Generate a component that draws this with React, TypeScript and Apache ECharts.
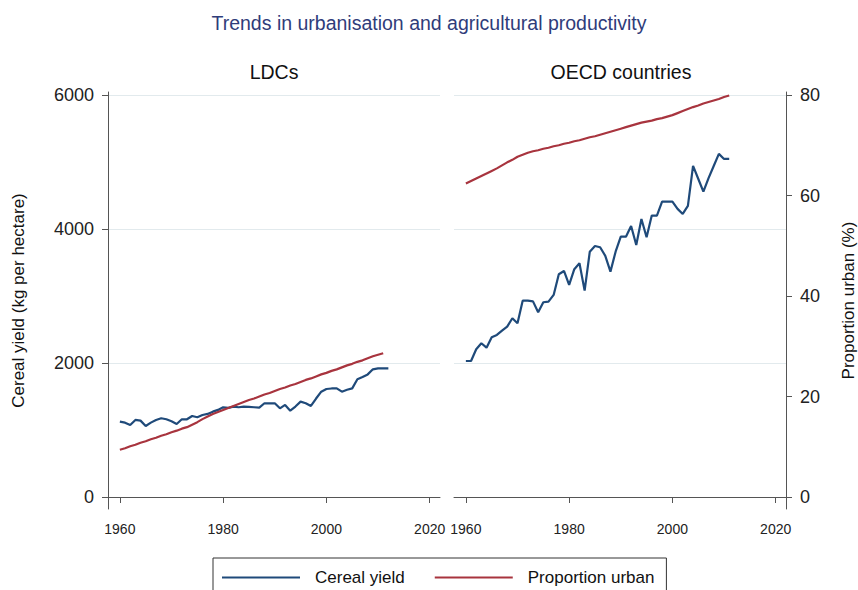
import React, { useEffect, useRef } from "react";
import * as echarts from "echarts";

const YEARS = [
  1960, 1961, 1962, 1963, 1964, 1965, 1966, 1967, 1968, 1969,
  1970, 1971, 1972, 1973, 1974, 1975, 1976, 1977, 1978, 1979,
  1980, 1981, 1982, 1983, 1984, 1985, 1986, 1987, 1988, 1989,
  1990, 1991, 1992, 1993, 1994, 1995, 1996, 1997, 1998, 1999,
  2000, 2001, 2002, 2003, 2004, 2005, 2006, 2007, 2008, 2009,
  2010, 2011, 2012,
];

// LDCs: cereal yield (kg/ha), 1960-2012
const ldcCereal = [
  1124, 1110, 1075, 1150, 1140, 1060, 1110, 1150, 1175, 1160,
  1130, 1090, 1160, 1160, 1209, 1190, 1224, 1240, 1274, 1300,
  1339, 1330, 1348, 1340, 1349, 1345, 1340, 1334, 1399, 1399,
  1399, 1324, 1374, 1289, 1350, 1423, 1400, 1359, 1470, 1572,
  1612, 1620, 1622, 1572, 1600, 1622, 1757, 1790, 1830, 1906,
  1921, 1921, 1921,
];

// LDCs: proportion urban (%), 1960-2011
const ldcUrban = [
  9.4, 9.7, 10.1, 10.4, 10.8, 11.1, 11.5, 11.8, 12.2, 12.5,
  12.9, 13.2, 13.6, 13.9, 14.4, 14.9, 15.5, 16.0, 16.5, 16.9,
  17.3, 17.7, 18.1, 18.5, 18.9, 19.3, 19.6, 20.0, 20.4, 20.7,
  21.1, 21.5, 21.8, 22.2, 22.5, 22.9, 23.3, 23.6, 24.0, 24.4,
  24.7, 25.1, 25.4, 25.8, 26.2, 26.5, 26.9, 27.2, 27.6, 28.0,
  28.3, 28.6,
];

// OECD: cereal yield (kg/ha), 1960-2011
const oecdCereal = [
  2030, 2030, 2205, 2295, 2229, 2384, 2419, 2483, 2543, 2668,
  2593, 2931, 2931, 2920, 2757, 2907, 2916, 3016, 3325, 3374,
  3165, 3400, 3489, 3080, 3662, 3747, 3728, 3600, 3364, 3662,
  3886, 3886, 4045, 3762, 4150, 3877, 4200, 4200, 4409, 4409,
  4409, 4300, 4225, 4345, 4942, 4750, 4558, 4760, 4940, 5121,
  5046, 5046,
];

// OECD: proportion urban (%), 1960-2011
const oecdUrban = [
  62.4, 62.9, 63.4, 63.9, 64.4, 64.9, 65.4, 66.0, 66.6, 67.1,
  67.7, 68.1, 68.5, 68.8, 69.0, 69.3, 69.5, 69.8, 70.0, 70.3,
  70.5, 70.8, 71.0, 71.3, 71.6, 71.8, 72.1, 72.4, 72.7, 73.0,
  73.3, 73.6, 73.9, 74.2, 74.5, 74.7, 74.9, 75.2, 75.4, 75.7,
  76.0, 76.4, 76.8, 77.2, 77.6, 77.9, 78.3, 78.6, 78.9, 79.2,
  79.6, 79.9,
];

const xTicks = [1960, 1980, 2000, 2020];
const yieldTicks = [0, 2000, 4000, 6000];
const urbanTicks = [0, 20, 40, 60, 80];

const X_MIN = 1957.7;
const X_MAX = 2022;
const Y_MIN = -179;
const Y_MAX = 6045;
const U_MIN = (Y_MIN * 80) / 6000;
const U_MAX = (Y_MAX * 80) / 6000;

const BLUE = "#1f4a7a";
const RED = "#a8343e";
const AXIS = "#555555";
const GRID = "#e2eaed";
const FONT = "'Liberation Sans', Arial, Helvetica, sans-serif";

const zip = (vals: number[]) => vals.map((v, i) => [YEARS[i], v]);
const plain = (v: number) => String(v);

export default function App() {
  const ref = useRef<HTMLDivElement>(null);

  useEffect(() => {
    if (!ref.current) return;
    const chart = echarts.init(ref.current, undefined, { renderer: "svg" });

    const xAxisBase = (gridIndex: number) => ({
      type: "value" as const,
      gridIndex,
      min: X_MIN,
      max: X_MAX,
      axisLine: { show: true, lineStyle: { color: AXIS, width: 1 } },
      axisTick: { show: true, length: 6, customValues: xTicks, lineStyle: { color: AXIS } },
      axisLabel: {
        customValues: xTicks,
        formatter: plain,
        margin: 13,
        fontSize: 14,
        color: "#222",
        fontFamily: FONT,
      },
      splitLine: { show: false },
    });

    const option: any = {
      animation: false,
      backgroundColor: "#ffffff",
      textStyle: { fontFamily: FONT },
      title: {
        text: "Trends in urbanisation and agricultural productivity",
        left: "center",
        top: 8,
        textStyle: { fontSize: 19.5, fontWeight: "normal", color: "#2f3c7a", fontFamily: FONT },
      },
      graphic: [
        {
          type: "text",
          x: 274,
          y: 72,
          style: { text: "LDCs", fontSize: 19.5, fill: "#111", fontFamily: FONT, align: "center", verticalAlign: "middle" },
        },
        {
          type: "text",
          x: 621,
          y: 72,
          style: { text: "OECD countries", fontSize: 19.5, fill: "#111", fontFamily: FONT, align: "center", verticalAlign: "middle" },
        },
      ],
      legend: {
        data: ["Cereal yield", "Proportion urban"],
        left: 213,
        top: 558,
        icon: "rect",
        itemWidth: 78,
        itemHeight: 2,
        itemGap: 30,
        borderColor: "#333",
        borderWidth: 1,
        borderRadius: 0,
        padding: [11, 12, 20, 9],
        textStyle: { fontSize: 17, color: "#111", fontFamily: FONT, padding: [0, 0, 0, 10] },
      },
      grid: [
        { left: 108, right: 418, top: 92, bottom: 81 },
        { left: 454, right: 70, top: 92, bottom: 81 },
      ],
      xAxis: [xAxisBase(0), xAxisBase(1)],
      yAxis: [
        {
          type: "value",
          gridIndex: 0,
          position: "left",
          min: Y_MIN,
          max: Y_MAX,
          name: "Cereal yield (kg per hectare)",
          nameLocation: "middle",
          nameGap: 81,
          nameRotate: 90,
          nameTextStyle: { fontSize: 17, color: "#111", fontFamily: FONT },
          axisLine: { show: true, lineStyle: { color: AXIS, width: 1 } },
          axisTick: { show: true, length: 6, customValues: yieldTicks, lineStyle: { color: AXIS } },
          axisLabel: { customValues: yieldTicks, formatter: plain, margin: 14, fontSize: 18, color: "#222", fontFamily: FONT },
          splitLine: { show: true, lineStyle: { color: GRID, width: 1 } },
        },
        {
          type: "value",
          gridIndex: 0,
          position: "right",
          min: U_MIN,
          max: U_MAX,
          show: false,
        },
        {
          type: "value",
          gridIndex: 1,
          position: "left",
          min: Y_MIN,
          max: Y_MAX,
          axisLine: { show: false },
          axisTick: { show: false, customValues: yieldTicks },
          axisLabel: { show: false, customValues: yieldTicks },
          splitLine: { show: true, lineStyle: { color: GRID, width: 1 } },
        },
        {
          type: "value",
          gridIndex: 1,
          position: "right",
          min: U_MIN,
          max: U_MAX,
          name: "Proportion urban (%)",
          nameLocation: "middle",
          nameGap: 54,
          nameRotate: 90,
          nameTextStyle: { fontSize: 17, color: "#111", fontFamily: FONT },
          axisLine: { show: true, lineStyle: { color: AXIS, width: 1 } },
          axisTick: { show: true, length: 6, customValues: urbanTicks, lineStyle: { color: AXIS } },
          axisLabel: { customValues: urbanTicks, formatter: plain, margin: 14, fontSize: 18, color: "#222", fontFamily: FONT },
          splitLine: { show: false },
        },
      ],
      series: [
        {
          name: "Cereal yield",
          type: "line",
          xAxisIndex: 0,
          yAxisIndex: 0,
          data: zip(ldcCereal),
          showSymbol: false,
          lineStyle: { color: BLUE, width: 2.2 },
          itemStyle: { color: BLUE },
        },
        {
          name: "Proportion urban",
          type: "line",
          xAxisIndex: 0,
          yAxisIndex: 1,
          data: zip(ldcUrban),
          showSymbol: false,
          lineStyle: { color: RED, width: 2.2 },
          itemStyle: { color: RED },
        },
        {
          name: "Cereal yield",
          type: "line",
          xAxisIndex: 1,
          yAxisIndex: 2,
          data: zip(oecdCereal),
          showSymbol: false,
          lineStyle: { color: BLUE, width: 2.2 },
          itemStyle: { color: BLUE },
        },
        {
          name: "Proportion urban",
          type: "line",
          xAxisIndex: 1,
          yAxisIndex: 3,
          data: zip(oecdUrban),
          showSymbol: false,
          lineStyle: { color: RED, width: 2.2 },
          itemStyle: { color: RED },
        },
      ],
    };

    chart.setOption(option);
    return () => chart.dispose();
  }, []);

  return <div ref={ref} style={{ width: 858, height: 590, position: "absolute", left: 0, top: 0 }} />;
}
